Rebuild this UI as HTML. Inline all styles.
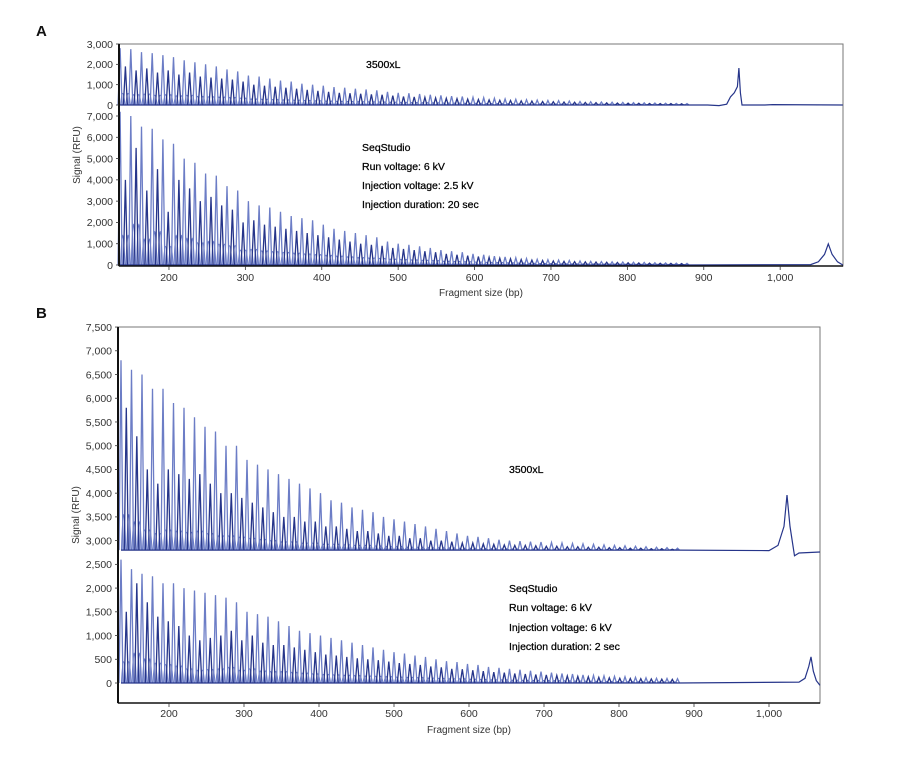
<!DOCTYPE html>
<html><head><meta charset="utf-8"><style>
body{margin:0;background:#fff;}
svg text{font-family:"Liberation Sans",sans-serif;}
</style></head><body>
<svg id="c" width="900" height="754" viewBox="0 0 900 754" xmlns="http://www.w3.org/2000/svg"></svg>
<script>
const peakSizes=[136,143,150,157,164,171,178,185,192,199,206,213,220,227,234,241,248,255,262,269,276,283,290,297,304,311,318,325,332,339,346,353,360,367,374,381,388,395,402,409,416,423,430,437,444,451,458,465,472,479,486,493,500,507,514,521,528,535,542,549,556,563,570,577,584,591,598,605,612,619,626,633,640,647,654,661,668,675,682,689,696,703,710,717,724,731,738,745,752,759,766,773,780,787,794,801,808,815,822,829,836,843,850,857,864,871,878];
const heightsA1=[2800,1900,2750,1700,2600,1800,2550,1600,2450,1700,2350,1500,2200,1600,2100,1400,2000,1350,1900,1300,1750,1250,1650,1150,1450,1000,1400,950,1300,900,1200,850,1150,800,1050,750,1000,700,950,650,880,600,850,580,800,550,760,520,720,500,650,460,600,420,580,400,540,380,500,350,470,330,440,310,420,290,380,270,360,250,330,230,300,220,280,200,260,190,240,170,220,160,210,150,190,140,170,130,160,120,150,110,140,100,130,95,120,90,110,80,100,75,90,70,80,60,70];
const heightsA2=[7200,4000,7000,5500,6500,3500,6400,4500,5900,2500,5700,4000,5000,3600,4800,3000,4300,3200,4200,2800,3700,2600,3500,2000,3000,2100,2800,1900,2700,1800,2500,1700,2300,1600,2200,1500,2100,1400,1900,1300,1700,1200,1600,1100,1500,1000,1400,950,1300,900,1100,800,1000,750,950,700,880,650,800,600,700,520,650,480,600,440,520,400,480,360,420,320,380,290,340,260,300,230,270,210,250,190,230,170,210,160,190,150,170,140,160,130,150,120,140,110,130,100,120,90,110,85,100,80,90,70,80];
const heightsB1=[6800,5800,6600,5200,6500,4500,6200,4200,6200,4500,5900,4400,5800,4300,5600,4400,5400,4200,5300,4000,5000,4000,5000,3900,4700,3800,4600,3700,4500,3600,4400,3500,4300,3500,4200,3400,4100,3400,4000,3300,3850,3300,3800,3250,3700,3200,3650,3200,3600,3150,3500,3100,3450,3100,3400,3050,3350,3050,3300,3000,3250,3000,3200,2980,3150,2950,3100,2950,3080,2930,3050,2920,3020,2910,3000,2900,2990,2900,2980,2890,2970,2880,2960,2880,2950,2870,2940,2870,2930,2860,2920,2860,2910,2850,2900,2850,2890,2840,2880,2840,2870,2830,2860,2830,2850,2820,2840];
const heightsB2=[2600,1500,2400,2100,2300,1700,2250,1400,2100,1300,2100,1200,2000,1000,1950,900,1900,950,1850,1000,1800,1100,1700,900,1500,1000,1450,850,1400,800,1300,800,1200,750,1100,700,1050,650,1000,600,950,580,900,550,850,520,800,500,750,480,700,450,650,420,620,400,580,380,550,350,500,330,460,300,440,290,400,270,380,250,340,230,320,220,300,200,280,190,260,180,240,170,220,160,200,150,190,140,170,130,160,120,150,110,140,100,130,95,120,90,110,85,100,80,95,75,90];
const tailA1x=[878,905,920,930,935,940,944,946,948,950,980,990,1082], tailA1y=[0,0,-30,40,400,600,900,1820,600,0,0,20,0];
const tailA2x=[878,1040,1050,1058,1063,1068,1075,1082], tailA2y=[0,20,150,500,990,500,150,0];
const tailB1x=[878,1000,1012,1020,1024,1028,1034,1040,1068], tailB1y=[2800,2790,2900,3300,3960,3300,2680,2740,2760];
const tailB2x=[878,1040,1048,1053,1056,1059,1063,1068], tailB2y=[0,20,100,350,550,250,50,-50];
const ticksX=[200,300,400,500,600,700,800,900,1000];
const ticksA1=[0,1000,2000,3000], ticksA2=[0,1000,2000,3000,4000,5000,6000,7000];
const ticksB=[0,500,1000,1500,2000,2500,3000,3500,4000,4500,5000,5500,6000,6500,7000,7500];

const svg=document.getElementById('c');const NS='http://www.w3.org/2000/svg';
function el(t,a,txt){const e=document.createElementNS(NS,t);for(const k in a)e.setAttribute(k,a[k]);if(txt!==undefined)e.textContent=txt;svg.appendChild(e);return e;}
const fmt=v=>v.toLocaleString('en-US');
const LIGHT='#6c7dc6',DARK='#26358a';
function trace(xs,ys,hs,base,name,bumpFrac){
  let pl='',pd='',pb='';
  hs.forEach((h,i)=>{const x=xs(peakSizes[i]),b=ys(base),t=ys(h);
    const seg=`M${(x-2).toFixed(1)},${b.toFixed(1)}L${x.toFixed(1)},${t.toFixed(1)}L${(x+2).toFixed(1)},${b.toFixed(1)}`;
    if(i%2===0)pl+=seg;else pd+=seg;
    if(i<hs.length-1){const x2=xs(peakSizes[i+1]);const m=(x+x2)/2;
      const bh=ys(base+(Math.min(h,hs[i+1])-base)*bumpFrac);
      pb+=`M${(x+0.5).toFixed(1)},${b.toFixed(1)}Q${m.toFixed(1)},${(2*bh-b).toFixed(1)} ${(x2-0.5).toFixed(1)},${b.toFixed(1)}`;}
  });
  let e=el('path',{d:pb,fill:'none',stroke:LIGHT,'stroke-width':1.1});
  
  e=el('path',{d:pl,fill:'none',stroke:LIGHT,'stroke-width':1.3});
  
  e=el('path',{d:pd,fill:'none',stroke:DARK,'stroke-width':1.3});
  
  let bl=`M${xs(peakSizes[0])},${ys(base)}L${xs(peakSizes[peakSizes.length-1])},${ys(base)}`;
  e=el('path',{d:bl,fill:'none',stroke:DARK,'stroke-width':1.2});
  
}
function tail(xs,ys,tx,ty,name){
  const d=tx.map((v,i)=>(i?'L':'M')+xs(v).toFixed(1)+','+ys(ty[i]).toFixed(1)).join('');
  const e=el('path',{d:d,fill:'none',stroke:DARK,'stroke-width':1.2});
  
}
function yTicks(ys,ticks,left,name){ticks.forEach(v=>{
  let t=el('text',{x:left-6,y:ys(v)+3.8,'font-size':10.5,fill:'#333','text-anchor':'end'},fmt(v));
  
  el('line',{x1:left-3,x2:left,y1:ys(v),y2:ys(v),stroke:'#333','stroke-width':0.8});});}
function xTicks(xs,y,ly){ticksX.forEach(v=>{
  el('line',{x1:xs(v),x2:xs(v),y1:y,y2:y+4,stroke:'#333','stroke-width':0.8});
  let t=el('text',{x:xs(v),y:ly,'font-size':10.5,fill:'#333','text-anchor':'middle'},fmt(v));
  });}

// Panel A
let t=el('text',{x:36,y:36,'font-size':15,'font-weight':'bold',fill:'#111'},'A');

const xA=v=>119+(v-134.6)*0.764;
const yA1=v=>105-v/3000*61;
const yA2=v=>265-v/7000*149;
el('rect',{x:119,y:44,width:724,height:222,fill:'none',stroke:'#777','stroke-width':1});
trace(xA,yA1,heightsA1,0,'a-3500xl',0.3);tail(xA,yA1,tailA1x,tailA1y,'a-3500xl');
trace(xA,yA2,heightsA2,0,'a-seqstudio',0.35);tail(xA,yA2,tailA2x,tailA2y,'a-seqstudio');
el('line',{x1:119,x2:119,y1:44,y2:266,stroke:'#111','stroke-width':2});
el('line',{x1:119,x2:843,y1:266,y2:266,stroke:'#111','stroke-width':1.5});
yTicks(yA1,ticksA1,119,'a-upper-y');yTicks(yA2,ticksA2,119,'a-lower-y');
xTicks(xA,266,281);
t=el('text',{x:80,y:155,'font-size':10,fill:'#333','text-anchor':'middle',transform:'rotate(-90 80 155)'},'Signal (RFU)');

t=el('text',{x:481,y:296,'font-size':10,fill:'#333','text-anchor':'middle'},'Fragment size (bp)');

[['3500xL',366,68],['SeqStudio',362,151],['Run voltage: 6 kV',362,170],['Injection voltage: 2.5 kV',362,189],['Injection duration: 20 sec',362,208]].forEach(a=>{
  const e=el('text',{x:a[1],y:a[2],'font-size':10.5,fill:'#000','stroke':'#000','stroke-width':0.25},a[0]);
  });

// Panel B
t=el('text',{x:36,y:318,'font-size':15,'font-weight':'bold',fill:'#111'},'B');

const xB=v=>118+(v-132)*0.75;
const yB=v=>683-v/500*23.73;
el('rect',{x:118,y:327,width:702,height:376,fill:'none',stroke:'#777','stroke-width':1});
trace(xB,yB,heightsB1,2800,'b-3500xl',0.25);tail(xB,yB,tailB1x,tailB1y,'b-3500xl');
trace(xB,yB,heightsB2,0,'b-seqstudio',0.3);tail(xB,yB,tailB2x,tailB2y,'b-seqstudio');
el('line',{x1:118,x2:118,y1:327,y2:703,stroke:'#111','stroke-width':2});
el('line',{x1:118,x2:820,y1:703,y2:703,stroke:'#111','stroke-width':1.5});
yTicks(yB,ticksB,118,'b-y');
xTicks(xB,703,717);
t=el('text',{x:79,y:515,'font-size':10,fill:'#333','text-anchor':'middle',transform:'rotate(-90 79 515)'},'Signal (RFU)');

t=el('text',{x:469,y:733,'font-size':10,fill:'#333','text-anchor':'middle'},'Fragment size (bp)');

[['3500xL',509,473],['SeqStudio',509,592],['Run voltage: 6 kV',509,611],['Injection voltage: 6 kV',509,631],['Injection duration: 2 sec',509,650]].forEach(a=>{
  const e=el('text',{x:a[1],y:a[2],'font-size':10.5,fill:'#000','stroke':'#000','stroke-width':0.25},a[0]);
  });
</script>
</body></html>
